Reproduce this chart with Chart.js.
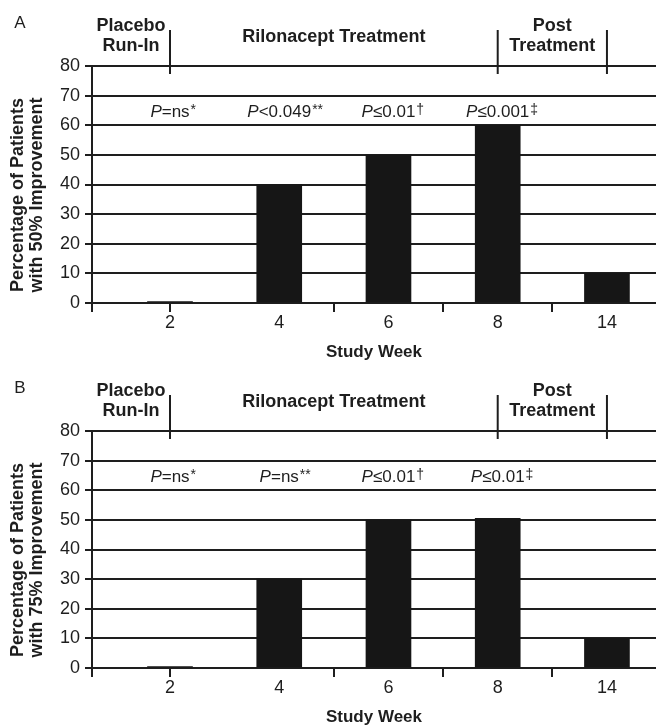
<!DOCTYPE html>
<html>
<head>
<meta charset="utf-8">
<script src="https://cdn.jsdelivr.net/npm/chart.js@4.4.1/dist/chart.umd.min.js"></script>
<style>
  body { margin: 0; background: #fff; }
  .panel { position: absolute; left: 0; width: 656px; height: 365px; }
</style>
</head>
<body>
<div class="panel" style="top:0"><canvas id="chartA"></canvas></div>
<div class="panel" style="top:365px"><canvas id="chartB"></canvas></div>
<script>
// Datos
const weeks = ["2", "4", "6", "8", "14"];
const improve50 = [0.5, 40, 50, 60, 10];
const improve75 = [0.5, 30, 50, 50.5, 10];
const pTextA = ["=ns", "<0.049", "≤0.01", "≤0.001"];
const pMarkA = ["*", "**", "†", "‡"];
const pTextB = ["=ns", "=ns", "≤0.01", "≤0.01"];
const pMarkB = ["*", "**", "†", "‡"];
const yMax = 80;
const yStep = 10;
const phaseNames = [["Placebo", "Run-In"], ["Rilonacept Treatment"], ["Post", "Treatment"]];
const phaseEnds = [0, 3, 4];   // week index where each phase ends

const FONT = "'Liberation Sans', Arial, Helvetica, sans-serif";
const INK = "#1e1e1e";
const xMin = -0.714, xMax = 4.449;
const markAt = [xMin, 0, 1.5, 2.5, 3.5];

Chart.defaults.font.family = FONT;
Chart.defaults.color = INK;

// Textos extra: letra del panel, fases, valores P, título eje Y
function annotations(letter, pText, pMark, yTitle) {
  return {
    id: "annot" + letter,
    afterDraw(chart) {
      const ctx = chart.ctx;
      const x = chart.scales.x, y = chart.scales.y;
      const top = chart.chartArea.top;
      ctx.save();
      ctx.fillStyle = INK;
      ctx.strokeStyle = INK;

      ctx.font = "17px " + FONT;
      ctx.textAlign = "center";
      ctx.textBaseline = "alphabetic";
      ctx.fillText(letter, 20, 28);

      // divisores de fases
      ctx.lineWidth = 2;
      phaseEnds.forEach(i => {
        const px = x.getPixelForValue(i);
        ctx.beginPath();
        ctx.moveTo(px, top - 36);
        ctx.lineTo(px, top + 8);
        ctx.stroke();
      });

      ctx.font = "bold 18px " + FONT;
      let start = xMin;
      phaseNames.forEach((lines, k) => {
        const cx = (x.getPixelForValue(start) + x.getPixelForValue(phaseEnds[k])) / 2;
        if (lines.length === 1) {
          ctx.fillText(lines[0], cx, 42);
        } else {
          ctx.fillText(lines[0], cx, 31);
          ctx.fillText(lines[1], cx, 51);
        }
        start = phaseEnds[k];
      });

      // valores P
      const base = y.getPixelForValue(62.8);
      pText.forEach((t, i) => {
        const cx = x.getPixelForValue(i);
        ctx.font = "italic 17px " + FONT;
        const wP = ctx.measureText("P").width;
        ctx.font = "17px " + FONT;
        const wT = ctx.measureText(t).width;
        let left = cx - (wP + wT) / 2;
        ctx.textAlign = "left";
        ctx.font = "italic 17px " + FONT;
        ctx.fillText("P", left, base);
        ctx.font = "17px " + FONT;
        ctx.fillText(t, left + wP, base);
        ctx.font = "14px " + FONT;
        ctx.fillText(pMark[i], left + wP + wT + 1, base - 3);
      });

      // título eje Y (dos líneas)
      ctx.font = "bold 18px " + FONT;
      ctx.textAlign = "center";
      ctx.textBaseline = "middle";
      ctx.translate(0, 195);
      ctx.rotate(-Math.PI / 2);
      ctx.fillText(yTitle[0], 0, 18);
      ctx.fillText(yTitle[1], 0, 37);
      ctx.restore();
    }
  };
}

function makeChart(id, letter, values, pText, pMark, yTitle) {
  return new Chart(document.getElementById(id), {
    type: "bar",
    data: {
      datasets: [{
        data: values.map((v, i) => ({x: i, y: v})),
        backgroundColor: "#161616",
        borderWidth: 0,
        barThickness: 45
      }]
    },
    options: {
      responsive: true,
      maintainAspectRatio: false,
      animation: false,
      layout: {padding: {top: 66, right: 0, bottom: 0, left: 0}},
      plugins: {legend: {display: false}, tooltip: {enabled: false}},
      scales: {
        x: {
          type: "linear",
          min: xMin,
          max: xMax,
          offset: false,
          afterFit: s => { s.height = 62; },
          afterBuildTicks: s => {
            s.ticks = [xMin, 0, 1, 1.5, 2, 2.5, 3, 3.5, 4].map(v => ({value: v}));
          },
          ticks: {
            autoSkip: false,
            maxRotation: 0,
            padding: 0,
            font: {size: 18},
            color: INK,
            callback: v => (Number.isInteger(v) && v >= 0) ? weeks[v] : ""
          },
          grid: {
            offset: false,
            drawOnChartArea: false,
            tickLength: 9,
            lineWidth: 2,
            tickColor: c => (c.tick && markAt.includes(c.tick.value)) ? INK : "rgba(0,0,0,0)"
          },
          border: {display: true, color: INK, width: 2},
          title: {
            display: true,
            text: "Study Week",
            font: {size: 17, weight: "bold"},
            color: INK,
            padding: {top: 0, bottom: 2}
          }
        },
        y: {
          min: 0,
          max: yMax,
          afterFit: s => { s.width = 92; },
          ticks: {stepSize: yStep, padding: 5, font: {size: 18}, color: INK},
          grid: {color: INK, lineWidth: 2, tickLength: 7},
          border: {display: true, color: INK, width: 2}
        }
      }
    },
    plugins: [annotations(letter, pText, pMark, yTitle)]
  });
}

makeChart("chartA", "A", improve50, pTextA, pMarkA, ["Percentage of Patients", "with 50% Improvement"]);
makeChart("chartB", "B", improve75, pTextB, pMarkB, ["Percentage of Patients", "with 75% Improvement"]);
</script>
</body>
</html>
